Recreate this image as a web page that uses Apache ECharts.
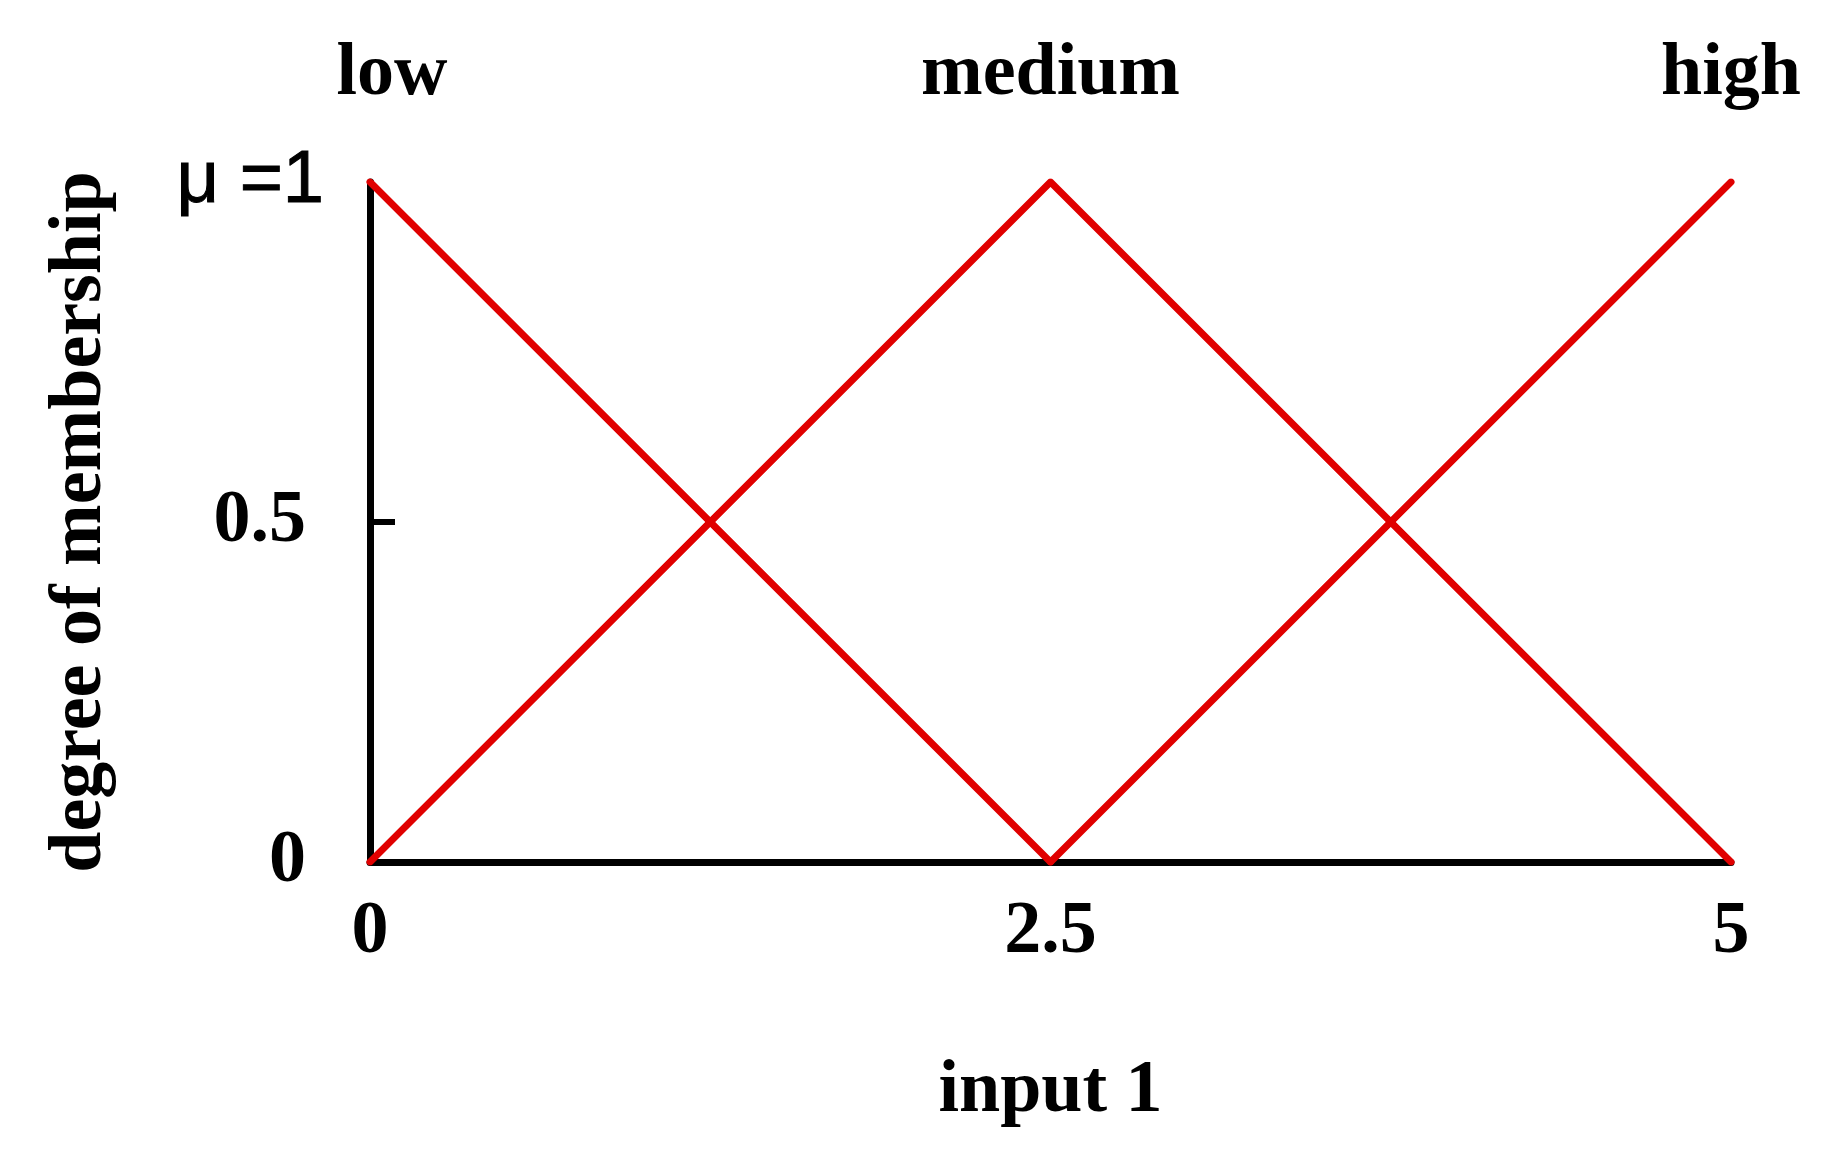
<!DOCTYPE html>
<html>
<head>
<meta charset="utf-8">
<script src="https://cdn.jsdelivr.net/npm/echarts@6/dist/echarts.min.js"></script>
<style>
  html, body { margin: 0; padding: 0; background: #fff; }
  #chart { width: 1846px; height: 1152px; }
</style>
</head>
<body>
<div id="chart"></div>
<script>
// 数据
const inputX = [0, 2.5, 5];
const lowMu = [1, 0, null];
const mediumMu = [0, 1, 0];
const highMu = [null, 0, 1];
const setNames = ['low', 'medium', 'high'];
const xTicks = [0, 2.5, 5];
const yTicks = [0, 0.5, 1];
const yTickMarks = [0.5];

const serif = "'Liberation Serif', 'Times New Roman', serif";
const red = '#e00000';

function pairs(ys) {
  return inputX.map(function (x, i) { return [x, ys[i]]; });
}

var myChart = echarts.init(document.getElementById('chart'));

var lineStyle = { color: red, width: 7, cap: 'round', join: 'round' };

var option = {
  backgroundColor: '#fff',
  animation: false,
  grid: { left: 370, right: 115, top: 182, bottom: 290 },
  xAxis: [{
    type: 'value',
    min: 0, max: 5, interval: 2.5,
    name: 'input 1',
    nameLocation: 'middle',
    nameGap: 193,
    nameTextStyle: { fontFamily: serif, fontWeight: 'bold', fontSize: 74, color: '#000' },
    axisLine: { show: true, lineStyle: { color: '#000', width: 7 } },
    axisTick: { show: false },
    splitLine: { show: false },
    axisLabel: {
      customValues: xTicks,
      margin: 34,
      fontFamily: serif, fontWeight: 'bold', fontSize: 74, color: '#000'
    }
  }, {
    type: 'value',
    position: 'top',
    min: 0, max: 5, interval: 2.5,
    axisLine: { show: false },
    axisTick: { show: false },
    splitLine: { show: false },
    axisLabel: {
      customValues: xTicks,
      margin: 70,
      formatter: function (v) {
        var name = setNames[xTicks.indexOf(v)];
        return v === 0 ? '{low|' + name + '}' : '{n|' + name + '}';
      },
      rich: {
        low: { fontFamily: serif, fontWeight: 'bold', fontSize: 74, color: '#000', padding: [0, 0, 0, 44] },
        n: { fontFamily: serif, fontWeight: 'bold', fontSize: 74, color: '#000' }
      }
    }
  }],
  yAxis: {
    type: 'value',
    min: 0, max: 1, interval: 0.5,
    name: 'degree of membership',
    nameLocation: 'middle',
    nameGap: 252,
    nameTextStyle: { fontFamily: serif, fontWeight: 'bold', fontSize: 74, color: '#000' },
    axisLine: { show: true, lineStyle: { color: '#000', width: 7 } },
    axisTick: {
      show: true, inside: true, length: 25,
      customValues: yTickMarks,
      lineStyle: { color: '#000', width: 6 }
    },
    splitLine: { show: false },
    axisLabel: {
      customValues: yTicks,
      margin: 46,
      formatter: function (v) {
        return v === 1 ? '{mu|μ =1}' : '{num|' + v + '}';
      },
      rich: {
        mu: { fontFamily: "'Liberation Sans', Arial, sans-serif", fontSize: 74, color: '#000', textBorderColor: '#000', textBorderWidth: 1 },
        num: { fontFamily: serif, fontWeight: 'bold', fontSize: 74, color: '#000', padding: [0, 18, 0, 0] }
      }
    }
  },
  series: [
    { name: 'low', type: 'line', data: pairs(lowMu), symbol: 'none', lineStyle: lineStyle, z: 5 },
    { name: 'medium', type: 'line', data: pairs(mediumMu), symbol: 'none', lineStyle: lineStyle, z: 5 },
    { name: 'high', type: 'line', data: pairs(highMu), symbol: 'none', lineStyle: lineStyle, z: 5 }
  ]
};

myChart.setOption(option);
window.addEventListener('resize', function () {
  myChart.resize();
});
</script>
</body>
</html>
